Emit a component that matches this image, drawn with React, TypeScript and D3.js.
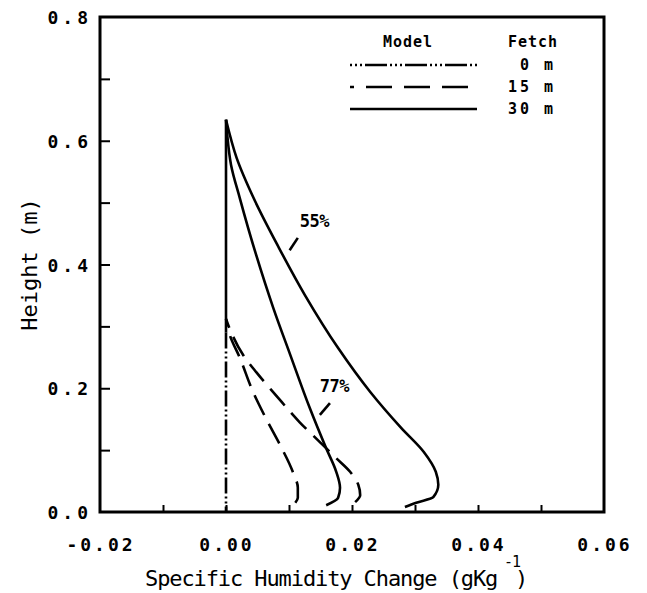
import * as d3 from "d3";
import React, { useEffect, useRef } from "react";

// profiles: [specific humidity change (g/kg), height (m)]
const fetch0m: [number, number][] = [
  [0, 0],
  [0, 0.29],
];
const fetch15mInner: [number, number][] = [
  [0, 0.312], [0.0006, 0.286], [0.0022, 0.249], [0.0043, 0.194], [0.0063, 0.152],
  [0.0086, 0.108], [0.0106, 0.065], [0.0114, 0.039], [0.0114, 0.023], [0.011, 0.015],
];
const fetch15mOuter: [number, number][] = [
  [0, 0.312], [0.0008, 0.291], [0.0027, 0.254], [0.0048, 0.226], [0.0079, 0.189],
  [0.0117, 0.145], [0.0149, 0.113], [0.0175, 0.087], [0.0197, 0.065], [0.021, 0.044],
  [0.0213, 0.027], [0.0205, 0.016],
];
const fetch30mTop: [number, number][] = [
  [0, 0.29],
  [0, 0.634],
];
const fetch30m77: [number, number][] = [
  [0, 0.634], [0.0002, 0.609], [0.0008, 0.561], [0.0022, 0.507], [0.0048, 0.415],
  [0.0075, 0.33], [0.0102, 0.254], [0.0133, 0.168], [0.0159, 0.103], [0.0175, 0.065],
  [0.0181, 0.039], [0.0178, 0.023], [0.0159, 0.011],
];
const fetch30m55: [number, number][] = [
  [0, 0.634], [0.0017, 0.572], [0.0044, 0.507], [0.0084, 0.427], [0.0125, 0.351],
  [0.0178, 0.265], [0.0229, 0.194], [0.0278, 0.136], [0.0314, 0.097], [0.0333, 0.065],
  [0.0337, 0.044], [0.0329, 0.024], [0.0302, 0.015], [0.0284, 0.008],
];

const xTicks = [-0.02, 0, 0.02, 0.04, 0.06];
const xMinor = [-0.01, 0, 0.01, 0.02, 0.03, 0.04, 0.05];
const yTicks = [0, 0.2, 0.4, 0.6, 0.8];
const yMinor = [0.1, 0.2, 0.3, 0.4, 0.5, 0.6, 0.7];

const legendModels = ["0 m", "15 m", "30 m"];
const dashes = ["16,3,2,3,2,3", "22,10", null];

export default function App() {
  const svgRef = useRef(null);
  const width = 647;
  const height = 593;
  const margin = { top: 17, right: 43, bottom: 81, left: 100 };

  useEffect(() => {
    const svgEl = d3.select(svgRef.current);
    svgEl.selectAll("*").remove();

    const x = d3
      .scaleLinear()
      .domain([-0.02, 0.06])
      .range([margin.left, width - margin.right]);
    const y = d3
      .scaleLinear()
      .domain([0, 0.8])
      .range([height - margin.bottom, margin.top]);

    const mono = "'DejaVu Sans Mono', monospace";

    // frame
    svgEl
      .append("rect")
      .attr("x", x(-0.02))
      .attr("y", y(0.8))
      .attr("width", x(0.06) - x(-0.02))
      .attr("height", y(0) - y(0.8))
      .attr("fill", "none")
      .attr("stroke", "#000")
      .attr("stroke-width", 3);

    // inside ticks
    const bottom = svgEl
      .append("g")
      .attr("transform", "translate(0," + y(0) + ")")
      .call(d3.axisBottom(x).tickValues(xMinor).tickSize(-7).tickFormat(() => ""));
    bottom.select(".domain").remove();
    bottom.selectAll("line").attr("stroke-width", 2);

    const left = svgEl
      .append("g")
      .attr("transform", "translate(" + x(-0.02) + ",0)")
      .call(d3.axisLeft(y).tickValues(yMinor).tickSize(-10).tickFormat(() => ""));
    left.select(".domain").remove();
    left.selectAll("line").attr("stroke-width", 2);

    // tick labels
    svgEl
      .append("g")
      .selectAll("text")
      .data(xTicks)
      .enter()
      .append("text")
      .attr("x", (d) => x(d) + 1)
      .attr("y", y(0) + 39)
      .attr("text-anchor", "middle")
      .attr("font-family", mono)
      .attr("font-weight", "bold")
      .attr("font-size", 18)
      .attr("letter-spacing", 3)
      .text((d) => d3.format(".2f")(d).replace("−", "-"));

    svgEl
      .append("g")
      .selectAll("text")
      .data(yTicks)
      .enter()
      .append("text")
      .attr("x", x(-0.02) - 8)
      .attr("y", (d) => y(d) + 7)
      .attr("text-anchor", "end")
      .attr("font-family", mono)
      .attr("font-weight", "bold")
      .attr("font-size", 18)
      .attr("letter-spacing", 4)
      .text((d) => d3.format(".1f")(d));

    // axis titles
    svgEl
      .append("text")
      .attr("x", 145)
      .attr("y", 586)
      .attr("font-family", mono)
      .attr("font-size", 22)
      .attr("letter-spacing", -1.1)
      .text("Specific Humidity Change (gKg");
    svgEl
      .append("text")
      .attr("x", 504)
      .attr("y", 567)
      .attr("font-family", mono)
      .attr("font-size", 15)
      .attr("letter-spacing", -1)
      .text("-1");
    svgEl
      .append("text")
      .attr("x", 515)
      .attr("y", 586)
      .attr("font-family", mono)
      .attr("font-size", 22)
      .text(")");

    svgEl
      .append("text")
      .attr("transform", "translate(37," + y(0.4) + ") rotate(-90)")
      .attr("text-anchor", "middle")
      .attr("font-family", mono)
      .attr("font-size", 22)
      .text("Height (m)");

    // profiles
    const line = d3
      .line<[number, number]>()
      .x((d) => x(d[0]))
      .y((d) => y(d[1]))
      .curve(d3.curveMonotoneY);

    const series: [[number, number][], string | null][] = [
      [fetch0m, dashes[0]],
      [fetch15mInner, dashes[1]],
      [fetch15mOuter, dashes[1]],
      [fetch30mTop, dashes[2]],
      [fetch30m77, dashes[2]],
      [fetch30m55, dashes[2]],
    ];
    svgEl
      .append("g")
      .selectAll("path")
      .data(series)
      .enter()
      .append("path")
      .attr("d", (d) => line(d[0].slice().reverse()))
      .attr("fill", "none")
      .attr("stroke", "#000")
      .attr("stroke-width", 2.6)
      .attr("stroke-dasharray", (d) => d[1]);

    // annotations
    const notes = [
      { label: "55%", tx: 0.0117, ty: 0.461, l: [0.0101, 0.423, 0.0114, 0.443] },
      { label: "77%", tx: 0.0149, ty: 0.194, l: [0.0149, 0.157, 0.0165, 0.176] },
    ];
    notes.forEach((n) => {
      svgEl
        .append("text")
        .attr("x", x(n.tx))
        .attr("y", y(n.ty))
        .attr("font-family", mono)
        .attr("font-weight", "bold")
        .attr("font-size", 17)
        .attr("letter-spacing", -0.5)
        .text(n.label);
      svgEl
        .append("line")
        .attr("x1", x(n.l[0]))
        .attr("y1", y(n.l[1]))
        .attr("x2", x(n.l[2]))
        .attr("y2", y(n.l[3]))
        .attr("stroke", "#000")
        .attr("stroke-width", 2.6);
    });

    // legend
    const lg = svgEl.append("g");
    lg.append("text")
      .attr("x", 408)
      .attr("y", 47)
      .attr("text-anchor", "middle")
      .attr("font-family", mono)
      .attr("font-weight", "bold")
      .attr("font-size", 15)
      .attr("letter-spacing", 1)
      .text("Model");
    lg.append("text")
      .attr("x", 533)
      .attr("y", 47)
      .attr("text-anchor", "middle")
      .attr("font-family", mono)
      .attr("font-weight", "bold")
      .attr("font-size", 15)
      .attr("letter-spacing", 1)
      .text("Fetch");
    legendModels.forEach((m, i) => {
      const ly = 65 + i * 22;
      lg.append("line")
        .attr("x1", 350)
        .attr("x2", 477)
        .attr("y1", ly)
        .attr("y2", ly)
        .attr("stroke", "#000")
        .attr("stroke-width", 2.6)
        .attr("stroke-dasharray", i === 0 ? "2,3,2,3,2,3,22,3" : i === 1 ? "26,12" : null)
        .attr("stroke-dashoffset", i === 1 ? 22 : 0);
      lg.append("text")
        .attr("x", 556)
        .attr("y", ly + 5)
        .attr("text-anchor", "end")
        .attr("font-family", mono)
        .attr("font-weight", "bold")
        .attr("font-size", 15)
        .attr("letter-spacing", 3)
        .text(m);
    });
  });

  return (
    <div style={{ position: "absolute", left: 0, top: 0, background: "#fff" }}>
      <svg width={width} height={height} ref={svgRef}></svg>
    </div>
  );
}
